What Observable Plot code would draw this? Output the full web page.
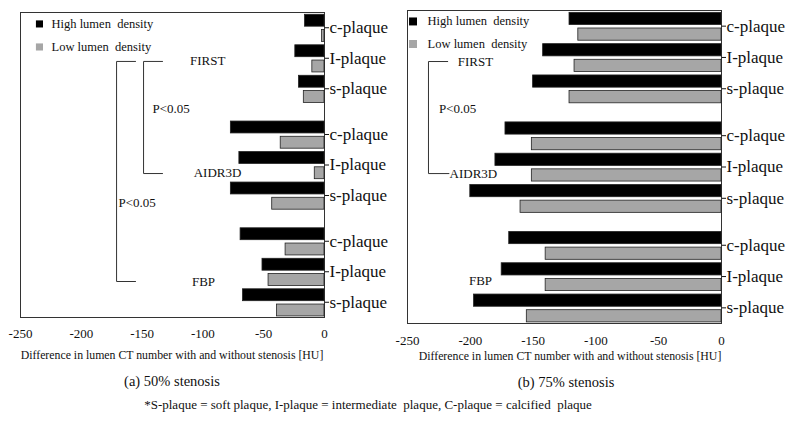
<!DOCTYPE html>
<html>
<head>
<meta charset="utf-8">
<script src="https://cdn.jsdelivr.net/npm/d3@7"></script>
<script src="https://cdn.jsdelivr.net/npm/@observablehq/plot@0.6"></script>
<style>
  body { margin: 0; background: #fff; }
  #wrap { position: relative; width: 800px; height: 424px; overflow: hidden; font-family: "Liberation Serif", serif; color: #111; background: #fff; }
  .panel { position: absolute; top: 0; }
  .lbl { position: absolute; transform: translate(-50%, -50%); white-space: pre; }
</style>
</head>
<body>
<div id="wrap">
  <div class="panel" id="pb" style="left:380px; z-index:1"></div>
  <div class="panel" id="pa" style="left:0px; z-index:2"></div>
  <div class="lbl" style="left:172px; top:355px; font-size:11.8px;">Difference in lumen CT number with and without stenosis [HU]</div>
  <div class="lbl" style="left:570px; top:356px; font-size:11.8px;">Difference in lumen CT number with and without stenosis [HU]</div>
  <div class="lbl" style="left:172px; top:381px; font-size:14.5px;">(a) 50% stenosis</div>
  <div class="lbl" style="left:566px; top:382px; font-size:14.5px;">(b) 75% stenosis</div>
  <div class="lbl" style="left:368px; top:405px; font-size:13px;">*S-plaque = soft plaque, I-plaque = intermediate  plaque, C-plaque = calcified  plaque</div>
</div>
<script>
// ---- data ----
const groups = ["FIRST", "AIDR3D", "FBP"];
const plaques = ["c-plaque", "I-plaque", "s-plaque"];
const densities = ["High lumen density", "Low lumen density"];
const xTicks = [-250, -200, -150, -100, -50, 0];

// (a) 50% stenosis, order: FIRST c,I,s / AIDR3D c,I,s / FBP c,I,s
const highA = [-16, -24, -21, -77, -70, -77, -69, -51, -67];
const lowA  = [-2, -10, -17, -36, -8, -43, -32, -46, -39];
// (b) 75% stenosis
const highB = [-121, -142, -150, -172, -180, -200, -169, -175, -197];
const lowB  = [-114, -117, -121, -151, -151, -160, -140, -140, -155];

const pValue = "P<0.05";

// ---- helpers ----
function rowsFor(high, low) {
  const rows = [];
  groups.forEach((g, gi) => plaques.forEach((p, pi) => {
    const i = gi * 3 + pi, r = gi * 7 + pi * 2;
    rows.push({group: g, plaque: p, density: densities[0], value: high[i], row: r});
    rows.push({group: g, plaque: p, density: densities[1], value: low[i], row: r + 1});
  }));
  return rows;
}

function chart(cfg) {
  const rows = rowsFor(cfg.high, cfg.low);
  const labelMap = new Map(rows.filter(d => d.density === densities[0]).map(d => [d.row + 1, d.plaque]));
  const tickRows = [...labelMap.keys()];
  const bracketPts = [];
  cfg.brackets.forEach((b, k) => {
    bracketPts.push({id: k, x: b.arm1, y: b.y1}, {id: k, x: b.x, y: b.y1}, {id: k, x: b.x, y: b.y2}, {id: k, x: b.arm2, y: b.y2});
  });
  const legend = densities.map((d, i) => ({density: d, x: cfg.legend.x, tx: cfg.legend.tx, y: cfg.legend.y[i]}));
  return Plot.plot({
    width: cfg.width,
    height: cfg.height,
    marginLeft: cfg.ml, marginRight: cfg.mr, marginTop: cfg.mt, marginBottom: cfg.mb,
    x: {domain: [-250, 0], axis: null},
    y: {domain: [0, 20], reverse: true, axis: null},
    color: {domain: densities, range: ["#000000", "#a6a6a6"]},
    style: {fontFamily: "Liberation Serif", fontSize: "13px", background: "transparent", color: "#111"},
    marks: [
      Plot.frame({stroke: "#333", strokeWidth: 1}),
      Plot.rectX(rows, {x1: 0, x2: "value", y1: d => d.row + 0.15, y2: d => d.row + 0.93,
        fill: "density", stroke: "#222", strokeWidth: 0.8}),
      Plot.axisX({ticks: xTicks, tickSize: 0, tickPadding: cfg.tp, tickFormat: d => String(d), fontSize: 13}),
      Plot.axisY({anchor: "right", label: null, ticks: tickRows, tickFormat: d => labelMap.get(d), tickSize: 4, tickPadding: 1, fontSize: 17}),
      Plot.line(bracketPts, {x: "x", y: "y", z: "id", stroke: "#333", strokeWidth: 1}),
      Plot.text(cfg.annot.filter(d => d.anchor === "middle"), {x: "x", y: "y", text: "text", textAnchor: "middle", fontSize: 13}),
      Plot.text(cfg.annot.filter(d => d.anchor === "start"), {x: "x", y: "y", text: "text", textAnchor: "start", fontSize: 13}),
      Plot.dot(legend, {x: "x", y: "y", symbol: "square", fill: "density", r: cfg.legend.r}),
      Plot.text(legend, {x: "tx", y: "y", text: d => d.density.replace("lumen ", "lumen  "), textAnchor: "start", fontSize: 12.5, style: "white-space: pre"})
    ]
  });
}

const annotA = [
  {text: "FIRST", x: -96, y: 3.2, anchor: "middle"},
  {text: "AIDR3D", x: -88, y: 10.5, anchor: "middle"},
  {text: "FBP", x: -99.5, y: 17.64, anchor: "middle"},
  {text: pValue, x: -141.4, y: 6.3, anchor: "start"},
  {text: pValue, x: -169.4, y: 12.46, anchor: "start"}
];
const bracketsA = [
  {x: -148.8, arm1: -133.2, arm2: -133.2, y1: 3.21, y2: 10.56},
  {x: -171, arm1: -155.4, arm2: -155.4, y1: 3.21, y2: 17.64}
];
const annotB = [
  {text: "FIRST", x: -195.9, y: 3.26, anchor: "middle"},
  {text: "AIDR3D", x: -216.5, y: 10.42, anchor: "start"},
  {text: "FBP", x: -191.9, y: 17.25, anchor: "middle"},
  {text: pValue, x: -225, y: 6.26, anchor: "start"}
];
const bracketsB = [
  {x: -233.3, arm1: -218, arm2: -217, y1: 3.26, y2: 10.42}
];

document.getElementById("pa").append(chart({
  high: highA, low: lowA, width: 400, height: 345, ml: 20, mr: 76, mt: 12, mb: 28, tp: 11,
  annot: annotA, brackets: bracketsA,
  legend: {x: -234.4, tx: -224.5, y: [0.75, 2.26], r: 4}
}));
document.getElementById("pb").append(chart({
  high: highB, low: lowB, width: 420, height: 352, ml: 27, mr: 79, mt: 10, mb: 29, tp: 12,
  annot: annotB, brackets: bracketsB,
  legend: {x: -245.6, tx: -234, y: [0.70, 2.14], r: 4.5}
}));
</script>
</body>
</html>
